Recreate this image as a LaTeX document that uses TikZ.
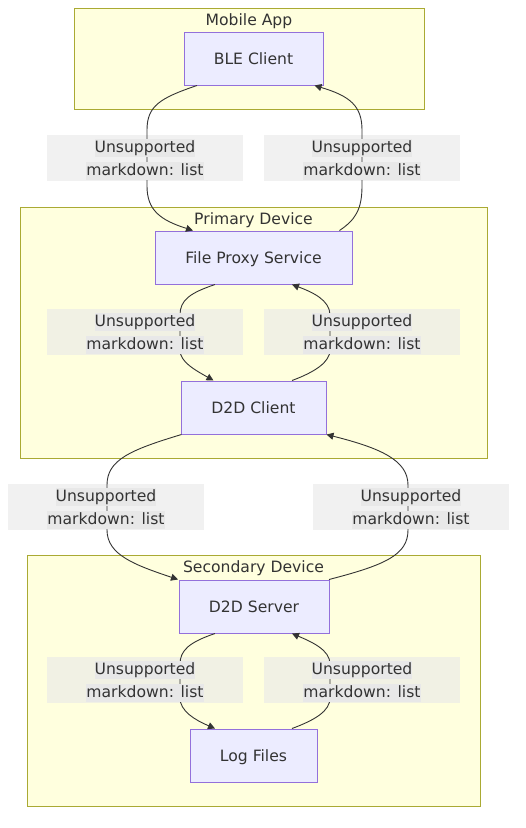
\documentclass[tikz,border=0pt]{standalone}
\usepackage{fontspec}
\setmainfont{DejaVu Sans}
\usetikzlibrary{arrows.meta}
\definecolor{clfill}{HTML}{FFFFDE}
\definecolor{clline}{HTML}{AAAA33}
\definecolor{ndfill}{HTML}{ECECFF}
\definecolor{ndline}{HTML}{9370DB}
\definecolor{txt}{HTML}{333333}
\definecolor{lblbg}{HTML}{E8E8E8}
\tikzset{
  cluster/.style={draw=clline, fill=clfill, line width=1pt, inner sep=0pt, anchor=north west},
  ctitle/.style={text=txt, inner sep=0pt, anchor=base, font=\fontsize{15.6}{18}\selectfont},
  box/.style={draw=ndline, fill=ndfill, line width=1pt, inner sep=0pt, minimum height=53pt, text height=11.9pt, text depth=0pt, text=txt, font=\fontsize{15.6}{18}\selectfont},
  lblbox/.style={fill=lblbg, fill opacity=0.6, inner sep=0pt, minimum width=196pt, minimum height=46pt},
  lbltxt/.style={fill=lblbg, text=txt, anchor=base, inner xsep=0pt, inner ysep=0.5pt, text height=13.5pt, text depth=3.5pt, font=\fontsize{15.6}{18}\selectfont},
  edge/.style={draw=txt, line width=0.9pt, -{Triangle[length=7pt,width=7pt]}}
}
\begin{document}
\begin{tikzpicture}[x=1pt,y=-1pt]
\useasboundingbox (0,0) rectangle (526,828);
\fill[white] (0,0) rectangle (526,828);
% clusters
\node[cluster, minimum width=350pt, minimum height=101pt] (mobile) at (74,8) {};
\node[ctitle] (mobileT) at (249,25) {Mobile App};
\node[cluster, minimum width=467pt, minimum height=251pt] (primary) at (20,207) {};
\node[ctitle] (primaryT) at (253.5,224) {Primary Device};
\node[cluster, minimum width=453pt, minimum height=251pt] (secondary) at (27,555) {};
\node[ctitle] (secondaryT) at (253.5,572) {Secondary Device};
% nodes
\node[box, minimum width=139pt] (ble) at (253.5,58.5) {BLE Client};
\node[box, minimum width=197pt] (fps) at (253.5,257.5) {File Proxy Service};
\node[box, minimum width=145pt] (d2dc) at (253.5,407.5) {D2D Client};
\node[box, minimum width=150pt] (d2ds) at (254,606.5) {D2D Server};
\node[box, minimum width=127pt] (logs) at (253.5,755.5) {Log Files};
% label boxes
\node[lblbox] (b1) at (145,158) {};
\node[lblbox] (b2) at (362,158) {};
\node[lblbox] (b3) at (145,332) {};
\node[lblbox] (b4) at (362,332) {};
\node[lblbox] (b5) at (106,507) {};
\node[lblbox] (b6) at (411,507) {};
\node[lblbox] (b7) at (145,680) {};
\node[lblbox] (b8) at (362,680) {};
% edges
\draw[edge] ([xshift=-56.5pt]ble.south) .. controls (160,98) and (147,106) .. (147,130) -- (147,186) .. controls (147,210) and (160,220) .. ([xshift=-60.5pt]fps.north);
\draw[edge] ([xshift=86pt]fps.north) .. controls (355,220) and (362,210) .. (362,186) -- (362,130) .. controls (362,106) and (350,96) .. ([xshift=61pt]ble.south);
\draw[edge] ([xshift=-38.5pt]fps.south) .. controls (190,293) and (180,300) .. (180,315) -- (180,350) .. controls (180,362) and (195,370) .. ([xshift=-40pt]d2dc.north);
\draw[edge] ([xshift=38.5pt]d2dc.north) .. controls (315,372) and (330,362) .. (330,350) -- (330,315) .. controls (330,300) and (312,292) .. ([xshift=38.5pt]fps.south);
\draw[edge] ([xshift=-72pt]d2dc.south) .. controls (130,450) and (107,460) .. (107,485) -- (107,530) .. controls (107,555) and (135,565) .. ([xshift=-76pt]d2ds.north);
\draw[edge] ([xshift=75pt]d2ds.north) .. controls (385,565) and (408,555) .. (408,530) -- (408,485) .. controls (408,460) and (380,448) .. ([xshift=73pt]d2dc.south);
\draw[edge] ([xshift=-39pt]d2ds.south) .. controls (190,642) and (180,650) .. (180,664) -- (180,698) .. controls (180,711) and (195,720) .. ([xshift=-38.5pt]logs.north);
\draw[edge] ([xshift=38.5pt]logs.north) .. controls (315,720) and (330,711) .. (330,698) -- (330,664) .. controls (330,650) and (312,642) .. ([xshift=38pt]d2ds.south);
% label texts
\node[lbltxt] (t1a) at (145,152.7) {Unsupported\ };
\node[lbltxt] (t1b) at (145,175.7) {markdown: list};
\node[lbltxt] (t2a) at (362,152.7) {Unsupported\ };
\node[lbltxt] (t2b) at (362,175.7) {markdown: list};
\node[lbltxt] (t3a) at (145,326.7) {Unsupported\ };
\node[lbltxt] (t3b) at (145,349.7) {markdown: list};
\node[lbltxt] (t4a) at (362,326.7) {Unsupported\ };
\node[lbltxt] (t4b) at (362,349.7) {markdown: list};
\node[lbltxt] (t5a) at (106,501.7) {Unsupported\ };
\node[lbltxt] (t5b) at (106,524.7) {markdown: list};
\node[lbltxt] (t6a) at (411,501.7) {Unsupported\ };
\node[lbltxt] (t6b) at (411,524.7) {markdown: list};
\node[lbltxt] (t7a) at (145,674.7) {Unsupported\ };
\node[lbltxt] (t7b) at (145,697.7) {markdown: list};
\node[lbltxt] (t8a) at (362,674.7) {Unsupported\ };
\node[lbltxt] (t8b) at (362,697.7) {markdown: list};
\end{tikzpicture}
\end{document}
